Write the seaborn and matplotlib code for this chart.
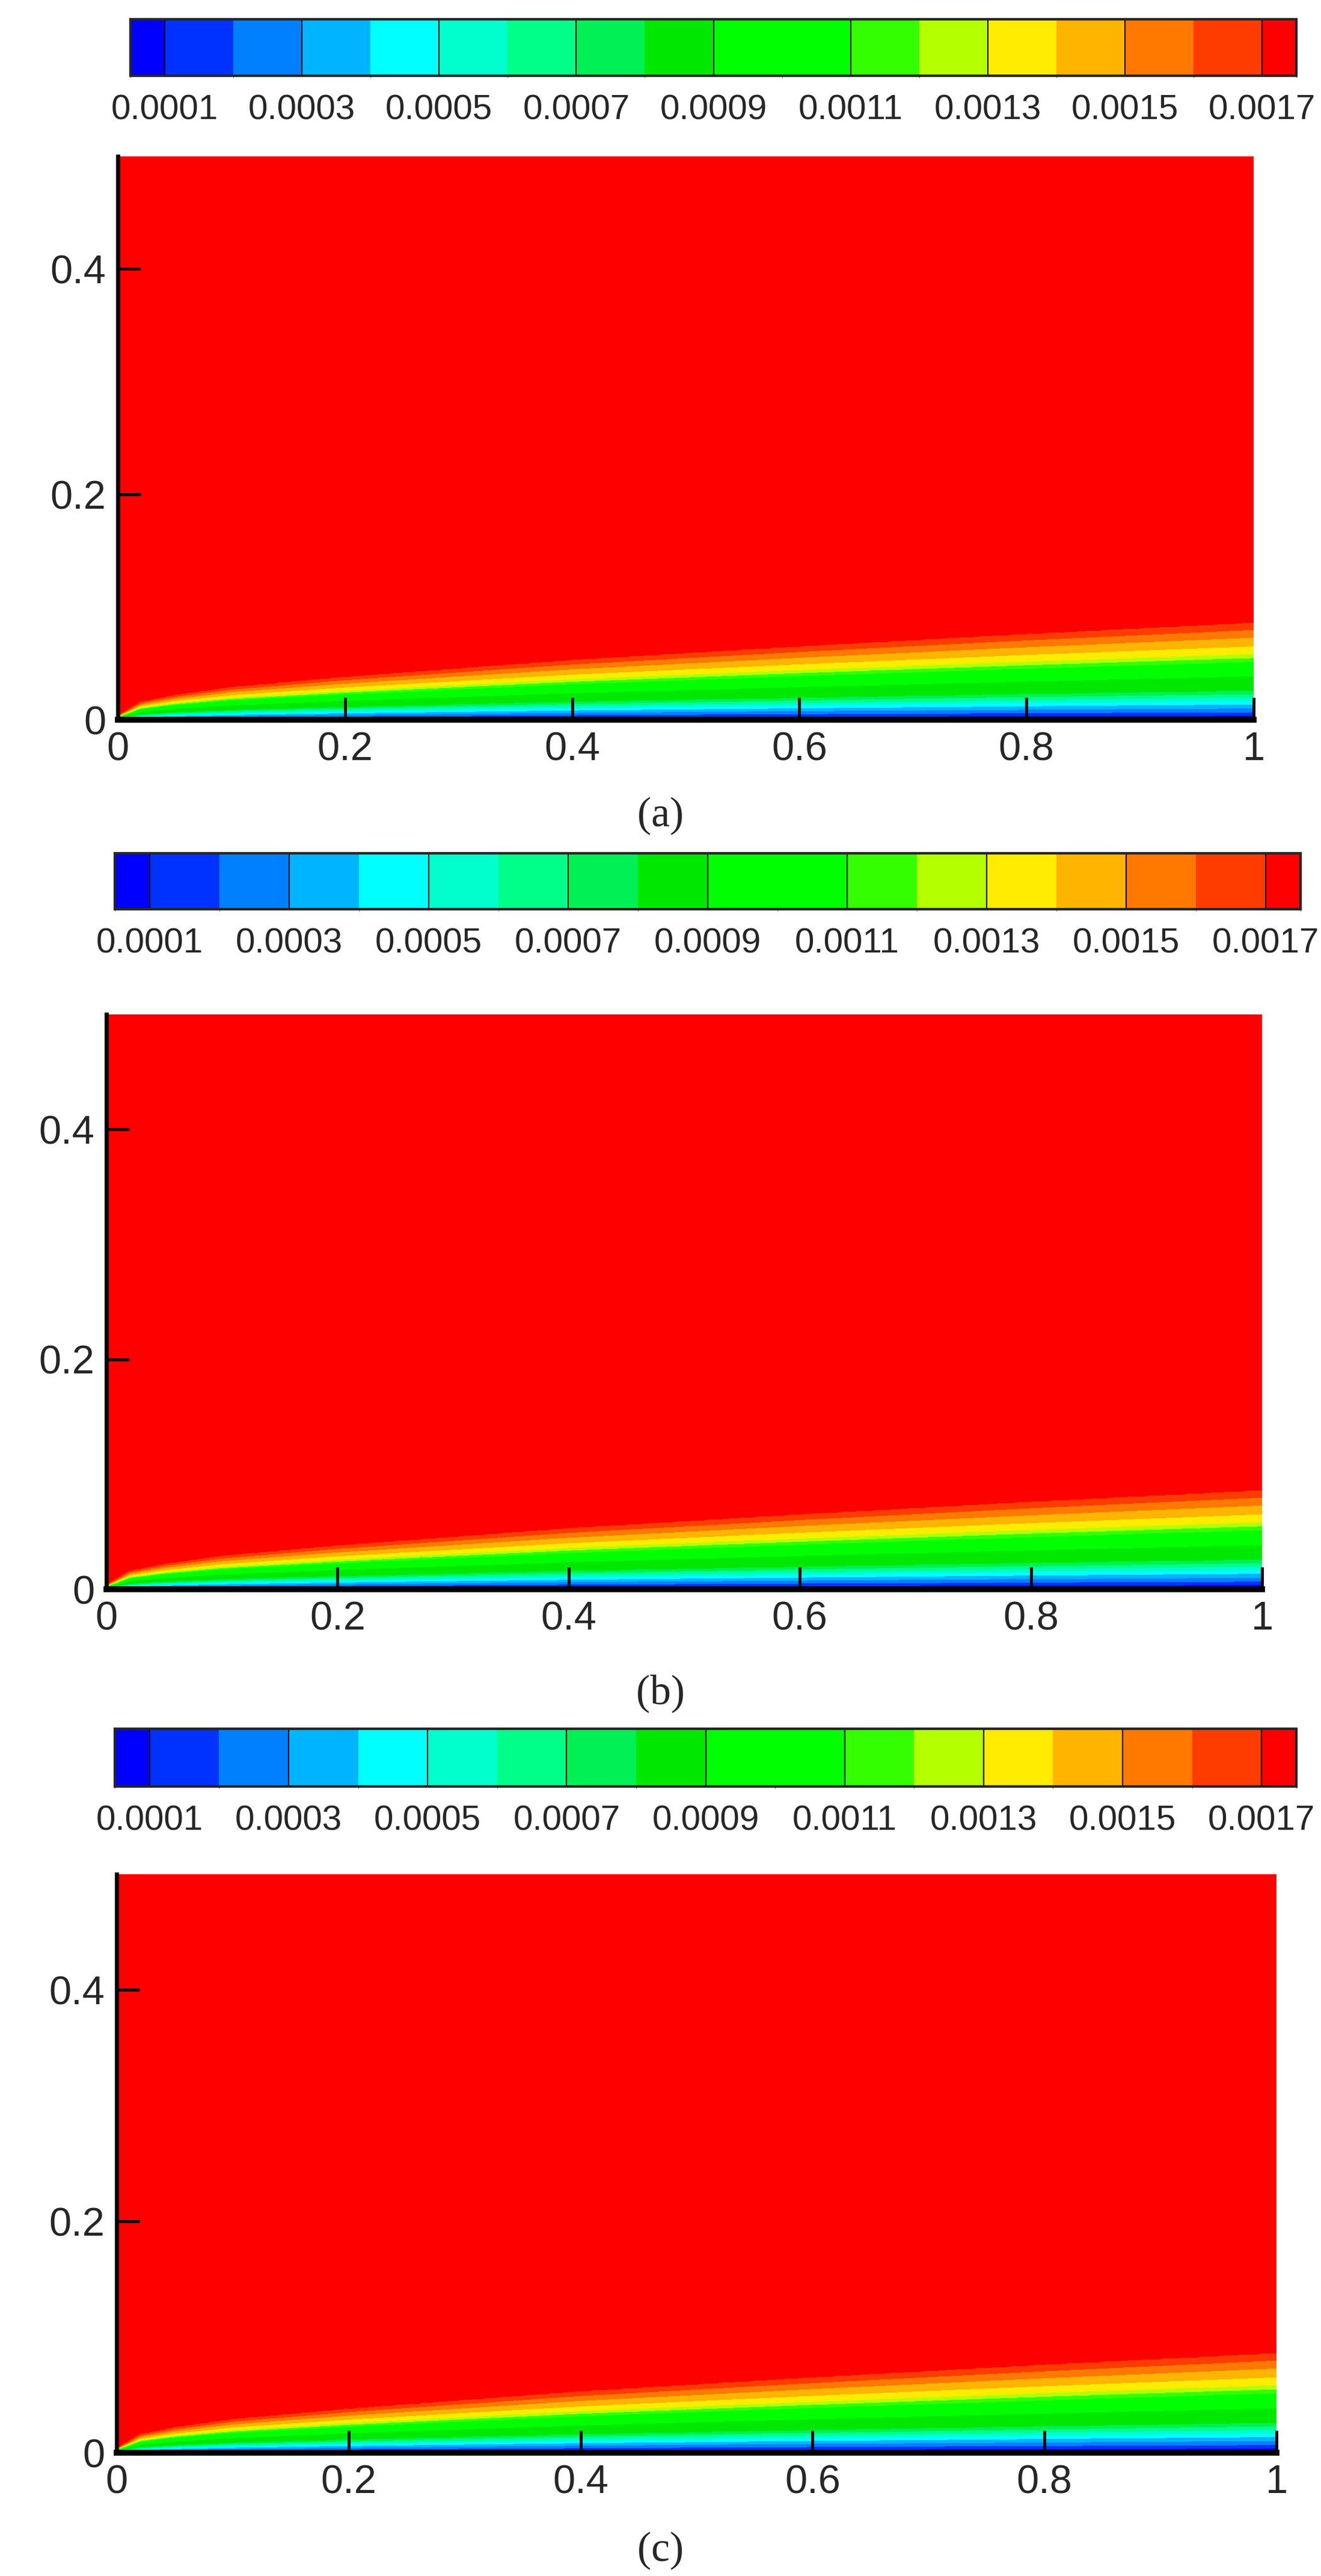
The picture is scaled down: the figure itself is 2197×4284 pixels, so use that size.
import numpy as np
import matplotlib
matplotlib.use("Agg")
import matplotlib.pyplot as plt
from matplotlib.colors import ListedColormap, BoundaryNorm
from matplotlib.ticker import MultipleLocator
import seaborn as sns

sns.set_style("white")
plt.rcParams['font.family'] = ['Liberation Sans Narrow', 'Liberation Sans', 'DejaVu Sans']

# contour levels and fill colours (Tecplot-like rainbow)
levels = [0.00005] + [round(0.0001 * k, 4) for k in range(1, 18)] + [0.00175]
level_colors = ['#0000ff', '#0032ff', '#0080ff', '#00b4ff', '#00ffff', '#00ffcc',
                '#00ff88', '#00f055', '#00e800', '#00ff00', '#00ff00', '#33ff00',
                '#b4ff00', '#ffec00', '#ffb400', '#ff7800', '#ff3c00', '#ff0000']
cbar_ticks = [0.0001, 0.0003, 0.0005, 0.0007, 0.0009, 0.0011, 0.0013, 0.0015, 0.0017]
cbar_ticklabels = ['0.0001', '0.0003', '0.0005', '0.0007', '0.0009',
                   '0.0011', '0.0013', '0.0015', '0.0017']

# boundary-layer edge height read at x stations (same for all three cases)
edge_x = [0.0, 0.02, 0.05, 0.1, 0.2, 0.4, 0.6, 0.8, 1.0]
edge_delta = [0.004, 0.016, 0.022, 0.029, 0.038, 0.053, 0.065, 0.076, 0.086]
prof_eta = [0.0, 0.03, 0.08, 0.2, 0.3, 0.45, 0.6, 0.68, 0.76, 0.85, 0.93, 1.0, 1.2]
prof_u = [0.0, 0.00006, 0.0002, 0.0005, 0.0008, 0.0009, 0.0011, 0.0013, 0.0014,
          0.0015, 0.0016, 0.0017, 0.00172]

panel_labels = ['(a)', '(b)', '(c)']
# pixel layout of each panel: colorbar (x0, x1, y0, y1), axes (x0, x1, ytop, ybottom), label rows
cbar_px = [(217, 2156, 32, 126), (191, 2163, 1419, 1512), (191, 2156, 2875, 2971)]
axes_px = [(196, 2085, 260, 1197), (177, 2099, 1687, 2643), (194, 2123, 3117, 4079)]
label_y_px = [1357, 2816, 4242]

W, H = 2197, 4284
fig = plt.figure(figsize=(W / 100, H / 100), dpi=100)
cmap = ListedColormap(level_colors)
norm = BoundaryNorm(levels, cmap.N)

xg = np.linspace(0, 1, 400)
yg = np.linspace(0, 0.5, 600)
X, Y = np.meshgrid(xg, yg)
D = np.interp(X, edge_x, edge_delta)
U = np.interp(Y / D, prof_eta, prof_u)

for i in range(3):
    ax0, ax1, at, ab = axes_px[i]
    ax = fig.add_axes([ax0 / W, 1 - ab / H, (ax1 - ax0) / W, (ab - at) / H])
    cf = ax.contourf(X, Y, U, levels=levels, cmap=cmap, norm=norm, zorder=0)
    ax.set_axisbelow(False)
    ax.set_xlim(0, 1)
    ax.set_ylim(0, 0.5)
    ax.set_xticks([0, 0.2, 0.4, 0.6, 0.8, 1])
    ax.set_xticklabels(['0', '0.2', '0.4', '0.6', '0.8', '1'])
    ax.set_yticks([0, 0.2, 0.4])
    ax.set_yticklabels(['0', '0.2', '0.4'])
    ax.xaxis.set_minor_locator(MultipleLocator(0.05))
    ax.yaxis.set_minor_locator(MultipleLocator(0.05))
    ax.tick_params(which='major', direction='in', length=27, width=3.5,
                   labelsize=48, color='black', pad=14)
    ax.tick_params(which='minor', direction='in', length=13, width=1.5, color='black')
    ax.tick_params(axis='both', bottom=True, left=True)
    for s in ['top', 'right']:
        ax.spines[s].set_visible(False)
    ax.spines['bottom'].set_linewidth(7)
    ax.spines['left'].set_linewidth(5)
    ax.spines['bottom'].set_color('black')
    ax.spines['left'].set_color('black')

    cx0, cx1, cy0, cy1 = cbar_px[i]
    cax = fig.add_axes([cx0 / W, 1 - cy1 / H, (cx1 - cx0) / W, (cy1 - cy0) / H])
    cb = fig.colorbar(cf, cax=cax, orientation='horizontal', spacing='proportional')
    cb.set_ticks(cbar_ticks)
    cb.set_ticklabels(cbar_ticklabels)
    cax.tick_params(length=0, labelsize=42, pad=22)
    for t in cbar_ticks:
        cax.axvline(t, color='black', linewidth=1.5)
    cb.outline.set_linewidth(3)

    fig.text(0.5, 1 - label_y_px[i] / H, panel_labels[i], ha='center', va='center',
             fontsize=50, family=['Liberation Serif', 'DejaVu Serif'])

fig.savefig('out.png', dpi=100)
